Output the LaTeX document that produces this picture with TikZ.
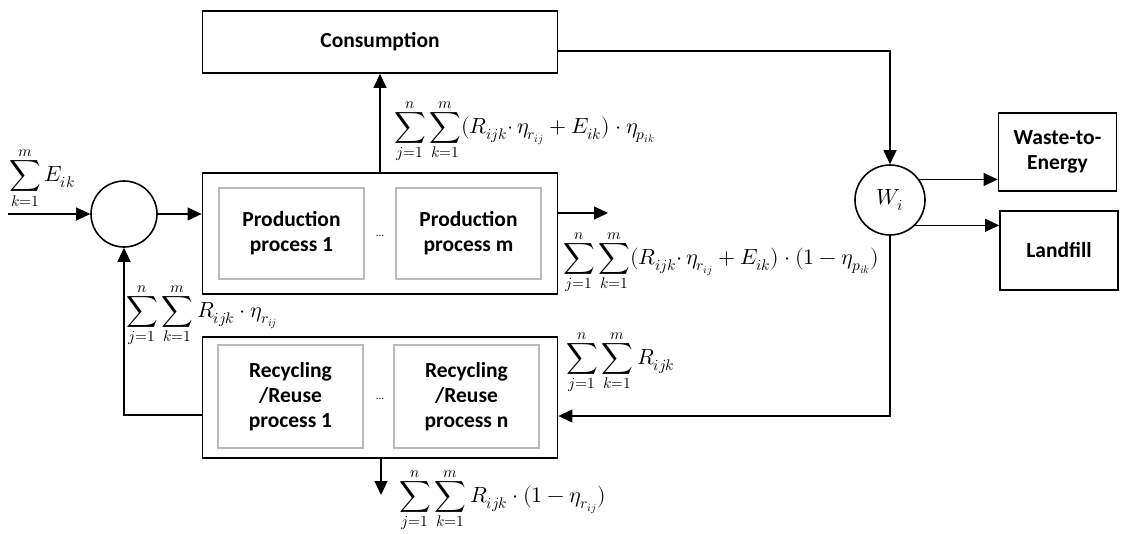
\documentclass[tikz,border=0pt]{standalone}
\usepackage{amsmath}
\usepackage{fontspec}
\usepackage{unicode-math}
\setmainfont{Carlito}
\setmathfont{Latin Modern Math}
\usetikzlibrary{arrows.meta,positioning}

\begin{document}
\begin{tikzpicture}[x=1pt,y=-1pt,>={Triangle[length=14pt,width=13pt]},
        outer/.style={draw,line width=1.8pt,minimum width=355pt,minimum height=121pt,
                font=\bfseries\fontsize{21.5}{26}\selectfont},
        inner/.style={draw=gray!55,line width=1.6pt,minimum width=145pt,align=center,
                font=\bfseries\fontsize{21.5}{25}\selectfont},
        sink/.style={draw,line width=1.8pt,minimum width=118pt,minimum height=78pt,align=center,
                font=\bfseries\fontsize{21.5}{25}\selectfont},
        junction/.style={circle,draw,line width=1.6pt,inner sep=0pt,font=\fontsize{22}{26}\selectfont},
        lbl/.style={inner sep=0pt,anchor=west,font=\fontsize{22}{26}\selectfont},
        flow/.style={->,line width=1.1pt}]
        \useasboundingbox (0,0) rectangle (1123,533);

        \node[outer,minimum height=62pt] (cons) at (380,42) {Consumption};
        \node[junction,minimum size=66pt] (sum) at (124,214) {};

        % production
        \node[outer] (prod) at (380,233.5) {};
        \node[inner,minimum height=91pt] (p1) at (291.5,233.5) {Production\\process 1};
        \node[inner,minimum height=91pt] (pm) at (468.5,233.5) {Production\\process m};
        \node[font=\fontsize{11}{13}\selectfont] (pdots) at (380,236) {...};

        % recycling
        \node[outer] (rec) at (380,397.5) {};
        \node[inner,minimum height=103pt] (r1) at (290.5,396.5) {Recycling\\/Reuse\\process 1};
        \node[inner,minimum height=103pt] (rn) at (466.5,396.5) {Recycling\\/Reuse\\process n};
        \node[font=\fontsize{11}{13}\selectfont] (rdots) at (380,399) {...};

        % waste
        \node[junction,minimum size=70pt] (w) at (890,200) {$W_i$};
        \node[sink] (wte) at (1057.5,152) {Waste-to-\\Energy};
        \node[sink,minimum height=79pt] (lf) at (1059,250.5) {Landfill};

        \coordinate (in) at (8,214);
        \coordinate (pout) at (608,213);
        \coordinate (rout) at (381,495);

        \path[flow] (in) edge (sum.west);
        \path[flow] (sum.east) edge (sum.east -| prod.west);
        \path[flow] (prod.north) edge (cons.south);
        \path[flow] (pout -| prod.east) edge (pout);
        \path[flow] (rec.south -| rout) edge (rout);
        \path[flow] (w.35) edge (w.35 -| wte.west);
        \path[flow] (w.-45) edge (w.-45 -| lf.west);
        \draw[flow] ([yshift=-9pt]cons.east) -| (w.north);
        \draw[flow] (w.south) |- ([yshift=-18.5pt]rec.east);
        \draw[flow] ([yshift=-17.5pt]rec.west) -| (sum.south);

        % flow labels
        \node[lbl] (lin) at (9,178) {$\displaystyle\sum_{k=1}^{m}E_{ik}$};
        \node[lbl] (lup) at (394,131) {$\displaystyle\sum_{j=1}^{n}\sum_{k=1}^{m}(R_{ijk}{\cdot}\,\eta_{r_{ij}}+E_{ik})\cdot\eta_{p_{ik}}$};
        \node[lbl] (lout) at (563,262) {$\displaystyle\sum_{j=1}^{n}\sum_{k=1}^{m}(R_{ijk}{\cdot}\,\eta_{r_{ij}}+E_{ik})\cdot(1-\eta_{p_{ik}})$};
        \node[lbl] (lback) at (126,315) {$\displaystyle\sum_{j=1}^{n}\sum_{k=1}^{m}R_{ijk}\cdot\eta_{r_{ij}}$};
        \node[lbl] (lret) at (566,362) {$\displaystyle\sum_{j=1}^{n}\sum_{k=1}^{m}R_{ijk}$};
        \node[lbl] (lloss) at (399,500) {$\displaystyle\sum_{j=1}^{n}\sum_{k=1}^{m}R_{ijk}\cdot(1-\eta_{r_{ij}})$};
\end{tikzpicture}
\end{document}
